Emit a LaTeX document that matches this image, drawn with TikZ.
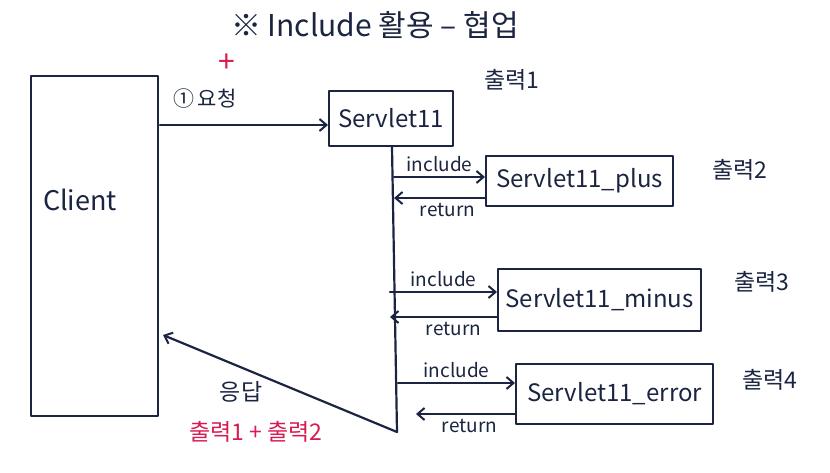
\documentclass[tikz,border=0pt]{standalone}
\usepackage{fontspec}
\setmainfont{Noto Sans CJK KR}
\usetikzlibrary{arrows.meta}
\definecolor{ink}{HTML}{1B2440}
\definecolor{pink}{HTML}{D81B50}
\begin{document}
\begin{tikzpicture}[x=1pt,y=-1pt,
  ln/.style={draw=ink,line width=2.2pt,line cap=round,line join=round},
  arr/.style={ln,-{Straight Barb[length=7pt,width=12pt,line width=2pt]}},
  box/.style={ln,rectangle,inner sep=0pt,anchor=north west},
  lbl/.style={text=ink,font=\fontsize{19}{21}\selectfont,inner sep=0pt},
  kr/.style={text=ink,font=\fontsize{23}{26}\selectfont,inner sep=0pt},
  big/.style={text=ink,font=\fontsize{24}{28}\selectfont,inner sep=0pt},
  red/.style={text=pink,inner sep=0pt}]
\useasboundingbox (0,0) rectangle (830,473);
% title
\node[text=ink,font=\fontsize{30}{34}\selectfont,inner sep=0pt] (title) at (375,25) {※ Include 활용 – 협업};
\node[red,font=\fontsize{30}{32}\selectfont] (plus) at (227,63) {+};
\node[text=ink,font=\fontsize{21}{24}\selectfont,inner sep=0pt] (req) at (205,99) {①\,요청};
% client
\node[box,minimum width=127pt,minimum height=340pt] (client) at (30,75) {};
\node[big,font=\fontsize{27}{30}\selectfont] (clienttxt) at (80,200) {Client};
% servlet11
\node[box,minimum width=124pt,minimum height=55pt] (s11) at (328,90) {};
\node[big] at (s11.center) {Servlet11};
\node[kr] (o1) at (512,80) {출력1};
\coordinate (c1) at (160,125);
\draw[arr] (c1) -- (s11.west |- c1);
% spine
\coordinate (top) at (392,147);
\coordinate (bot) at (397,432);
\draw[ln] (top) -- (bot);
% plus
\node[box,minimum width=187pt,minimum height=50pt] (sp) at (485,155) {};
\node[big] at (sp.center) {Servlet11\_plus};
\node[kr] (o2) at (740,170) {출력2};
\coordinate (i1a) at (394,177);
\coordinate (r1a) at (394,198);
\draw[arr] (i1a) -- (sp.west |- i1a) node[lbl,midway,above=4pt] {include};
\draw[arr] (sp.west |- r1a) -- (r1a) node[lbl,midway,below=4pt,xshift=8pt] {return};
% minus
\node[box,minimum width=203pt,minimum height=62pt] (sm) at (497,268) {};
\node[big] at (sm.center) {Servlet11\_minus};
\node[kr] (o3) at (762,282) {출력3};
\coordinate (i2a) at (390,292);
\coordinate (r2a) at (390,317);
\draw[arr] (i2a) -- (sm.west |- i2a) node[lbl,midway,above=4pt] {include};
\draw[arr] (sm.west |- r2a) -- (r2a) node[lbl,midway,below=4pt,xshift=10pt] {return};
% error
\node[box,minimum width=197pt,minimum height=60pt] (se) at (515,363) {};
\node[big] at (se.center) {Servlet11\_error};
\node[kr] (o4) at (770,380) {출력4};
\coordinate (i3a) at (398,383);
\coordinate (r3a) at (416,414);
\draw[arr] (i3a) -- (se.west |- i3a) node[lbl,midway,above=4pt] {include};
\draw[arr] (se.west |- r3a) -- (r3a) node[lbl,midway,below=4pt,xshift=4pt] {return};
% response
\coordinate (resp) at (163,335);
\draw[arr] (bot) -- (resp);
\node[kr] (ans) at (241,392) {응답};
\node[red,font=\fontsize{23}{26}\selectfont] (sum) at (256,432) {출력1 + 출력2};
\end{tikzpicture}
\end{document}
